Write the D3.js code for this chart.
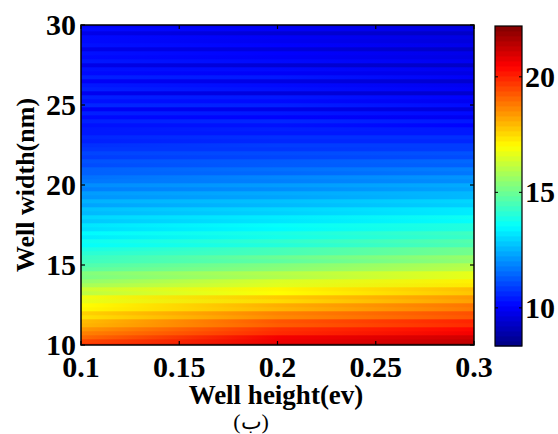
<!DOCTYPE html>
<html>
<head>
<meta charset="utf-8">
<script src="https://cdn.jsdelivr.net/npm/d3@7"></script>
<style>
  body { margin: 0; background: #fff; }
  svg text { font-family: "Liberation Serif", "Times New Roman", serif; font-weight: bold; fill: #000; }
</style>
</head>
<body>
<script>
// well widths (nm) sampled every 0.25 nm, rows of the map
const WIDTHS = d3.range(10, 30.001, 0.25);
// well heights (ev) where the values below were read
const HEIGHTS = [0.1, 0.2, 0.3];
const X_TICKS = [0.1, 0.15, 0.2, 0.25, 0.3];
const Y_TICKS = [10, 15, 20, 25, 30];
const CBAR_TICKS = [10, 15, 20];
const CBAR_RANGE = [8.35, 22.2];

// values read at well height 0.1 ev (bottom row first)
const valuesAt01 = [
  19.8, 19.5, 19.0, 18.7, 18.4, 18.0, 17.9, 17.4, 17.6, 17.1,
  17.0, 16.7, 16.8, 16.1, 16.3, 15.8, 15.5, 15.2, 15.3, 14.8,
  14.6, 14.4, 14.3, 14.1, 13.9, 13.6, 13.7, 13.3, 13.5, 13.1,
  13.2, 12.8, 13.0, 12.6, 12.7, 12.3, 12.5, 12.1, 12.2, 11.8,
  12.0, 11.7, 11.6, 11.4, 11.4, 11.1, 11.2, 10.9, 11.0, 10.8,
  10.7, 10.5, 10.6, 10.4, 10.4, 10.3, 10.5, 10.2, 10.5, 10.0,
  10.6, 10.3, 10.5, 9.9, 10.5, 10.4, 10.0, 10.5, 10.2, 10.3,
  9.8, 10.4, 10.2, 10.3, 9.8, 10.3, 10.2, 10.2, 9.8, 10.2, 10.0
];
// values read at well height 0.2 ev
const valuesAt02 = [
  21.3, 20.7, 20.6, 19.9, 19.8, 19.2, 19.3, 18.6, 18.7, 18.0,
  18.1, 17.5, 17.7, 17.0, 17.1, 16.6, 16.5, 15.9, 16.0, 15.4,
  15.3, 14.8, 15.0, 14.5, 14.5, 14.0, 14.2, 13.8, 13.9, 13.5,
  13.6, 13.2, 13.3, 12.9, 13.0, 12.6, 12.7, 12.3, 12.4, 12.0,
  12.2, 11.8, 11.9, 11.5, 11.6, 11.3, 11.3, 11.0, 11.1, 10.8,
  10.9, 10.6, 10.7, 10.4, 10.5, 10.3, 10.6, 10.1, 10.4, 9.8,
  10.5, 10.2, 10.4, 9.6, 10.3, 10.2, 9.7, 10.4, 10.0, 10.2,
  9.5, 10.2, 10.0, 10.1, 9.6, 10.1, 9.9, 10.0, 9.5, 10.0, 9.8
];
// values read at well height 0.3 ev
const valuesAt03 = [
  21.8, 21.3, 21.1, 20.6, 20.4, 19.9, 20.0, 19.3, 19.4, 18.8,
  18.9, 18.3, 18.4, 17.8, 17.9, 17.3, 17.2, 16.7, 16.7, 16.1,
  16.0, 15.5, 15.6, 15.1, 15.1, 14.6, 14.7, 14.3, 14.4, 14.0,
  14.0, 13.6, 13.7, 13.3, 13.3, 12.9, 13.0, 12.6, 12.6, 12.3,
  12.4, 12.0, 12.1, 11.7, 11.8, 11.4, 11.5, 11.1, 11.2, 10.9,
  10.9, 10.6, 10.7, 10.4, 10.4, 10.1, 10.4, 9.9, 10.2, 9.6,
  10.2, 9.9, 10.1, 9.4, 10.0, 9.9, 9.4, 10.0, 9.7, 9.9,
  9.3, 9.9, 9.7, 9.8, 9.3, 9.8, 9.6, 9.7, 9.3, 9.7, 9.5
];

const W = 558, H = 434;
const plot = { left: 81, right: 474, top: 25, bottom: 345 };
const cbar = { left: 495, right: 522, top: 26, bottom: 346 };

const svg = d3.select('body').append('svg')
  .attr('width', W)
  .attr('height', H);

const x = d3.scaleLinear().domain([0.1, 0.3]).range([plot.left, plot.right]);
const y = d3.scaleLinear().domain([10, 30]).range([plot.bottom, plot.top]);

// jet colormap over the colorbar range
const lo = CBAR_RANGE[0], span = CBAR_RANGE[1] - CBAR_RANGE[0];
const color = d3.scaleLinear()
  .domain([0, 0.125, 0.375, 0.625, 0.875, 1].map(t => lo + t * span))
  .range(['#000080', '#0000ff', '#00ffff', '#ffff00', '#ff0000', '#800000'])
  .clamp(true);

const series = [valuesAt01, valuesAt02, valuesAt03];
const rows = WIDTHS.map((w, i) => ({ w: w, vals: series.map(s => s[i]) }));

/*
  Heat map rows, each a gradient across well height
*/
const defs = svg.append('defs');
defs.append('clipPath').attr('id', 'plotClip')
  .append('rect')
    .attr('x', plot.left).attr('y', plot.top)
    .attr('width', plot.right - plot.left)
    .attr('height', plot.bottom - plot.top);

const grads = defs.selectAll('linearGradient')
  .data(rows)
  .join('linearGradient')
    .attr('id', (d, i) => 'row' + i)
    .attr('gradientUnits', 'userSpaceOnUse')
    .attr('x1', x(HEIGHTS[0])).attr('x2', x(HEIGHTS[HEIGHTS.length - 1]))
    .attr('y1', 0).attr('y2', 0);
grads.selectAll('stop')
  .data(d => d.vals.map((v, j) => ({ v: v, h: HEIGHTS[j] })))
  .join('stop')
    .attr('offset', d => (x(d.h) - plot.left) / (plot.right - plot.left))
    .attr('stop-color', d => color(d.v));

const half = 0.125;
svg.append('g')
  .attr('clip-path', 'url(#plotClip)')
  .selectAll('rect')
  .data(rows)
  .join('rect')
    .attr('x', plot.left)
    .attr('width', plot.right - plot.left)
    .attr('y', d => y(d.w + half))
    .attr('height', d => y(d.w - half) - y(d.w + half) + 0.3)
    .attr('fill', (d, i) => 'url(#row' + i + ')');

// frame and inward ticks
svg.append('rect')
  .attr('x', plot.left).attr('y', plot.top)
  .attr('width', plot.right - plot.left)
  .attr('height', plot.bottom - plot.top)
  .attr('fill', 'none').attr('stroke', '#000').attr('stroke-width', 1.5);

const tickLen = 4;
const axisX = svg.append('g');
X_TICKS.forEach(t => {
  axisX.append('line').attr('x1', x(t)).attr('x2', x(t))
    .attr('y1', plot.bottom).attr('y2', plot.bottom - tickLen);
  axisX.append('line').attr('x1', x(t)).attr('x2', x(t))
    .attr('y1', plot.top).attr('y2', plot.top + tickLen);
  axisX.append('text')
    .attr('x', x(t)).attr('y', 377)
    .attr('text-anchor', 'middle')
    .style('font-size', '30px')
    .text(d3.format('')(t));
});
const axisY = svg.append('g');
Y_TICKS.forEach(t => {
  axisY.append('line').attr('x1', plot.left).attr('x2', plot.left + tickLen)
    .attr('y1', y(t)).attr('y2', y(t));
  axisY.append('line').attr('x1', plot.right).attr('x2', plot.right - tickLen)
    .attr('y1', y(t)).attr('y2', y(t));
  axisY.append('text')
    .attr('x', 76).attr('y', y(t) + 10)
    .attr('text-anchor', 'end')
    .style('font-size', '30px')
    .text(t);
});
svg.selectAll('line').attr('stroke', '#000').attr('stroke-width', 1.2);

// axis titles
svg.append('text')
  .attr('x', 276).attr('y', 404)
  .attr('text-anchor', 'middle')
  .style('font-size', '27px')
  .text('Well height(ev)');
svg.append('text')
  .attr('transform', 'translate(34,185) rotate(-90)')
  .attr('text-anchor', 'middle')
  .style('font-size', '26px')
  .text('Well width(nm)');
svg.append('text')
  .attr('x', 251).attr('y', 429)
  .attr('text-anchor', 'middle')
  .style('font-size', '22px')
  .style('font-weight', 'normal')
  .text('(ب)');

/*
  Colorbar, 64 discrete levels like the source
*/
const cy = d3.scaleLinear().domain(CBAR_RANGE).range([cbar.bottom, cbar.top]);
const levels = d3.range(64).map(i => lo + (i + 0.5) * span / 64);
svg.append('g')
  .selectAll('rect')
  .data(levels)
  .join('rect')
    .attr('x', cbar.left)
    .attr('width', cbar.right - cbar.left)
    .attr('y', d => cy(d + span / 128))
    .attr('height', (cbar.bottom - cbar.top) / 64 + 0.4)
    .attr('fill', d => color(d));
svg.append('rect')
  .attr('x', cbar.left).attr('y', cbar.top)
  .attr('width', cbar.right - cbar.left)
  .attr('height', cbar.bottom - cbar.top)
  .attr('fill', 'none').attr('stroke', '#000').attr('stroke-width', 1.2);
const cAxis = svg.append('g');
CBAR_TICKS.forEach(t => {
  cAxis.append('line').attr('x1', cbar.left).attr('x2', cbar.left + 3)
    .attr('y1', cy(t)).attr('y2', cy(t));
  cAxis.append('line').attr('x1', cbar.right).attr('x2', cbar.right - 3)
    .attr('y1', cy(t)).attr('y2', cy(t));
  cAxis.append('text')
    .attr('x', 525).attr('y', cy(t) + 10)
    .style('font-size', '30px')
    .text(t);
});
cAxis.selectAll('line').attr('stroke', '#000').attr('stroke-width', 1);
</script>
</body>
</html>
